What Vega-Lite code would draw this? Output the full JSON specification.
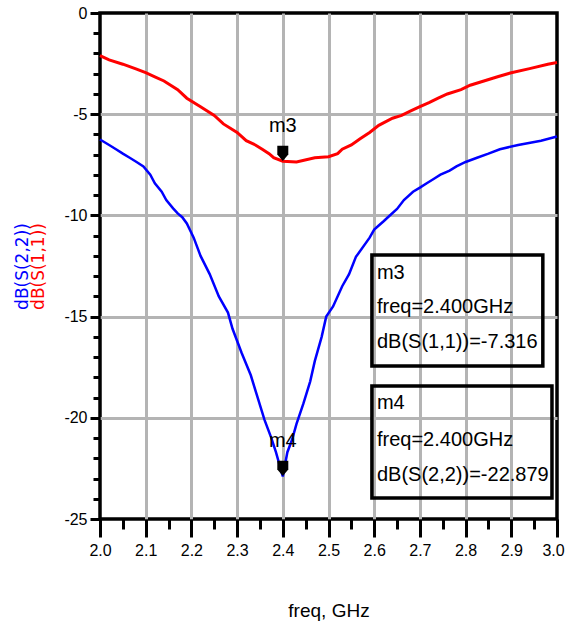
{
  "$schema": "https://vega.github.io/schema/vega-lite/v6.json",
  "width": 457,
  "height": 506,
  "autosize": {"type": "none"},
  "padding": {"left": 100, "top": 13, "right": 9, "bottom": 106},
  "background": "white",
  "config": {"view": {"stroke": "black", "strokeWidth": 3.5}, "font": "Liberation Sans"},
  "datasets": {
    "s11": [
      {"f": 2.0, "db": -2.11}, {"f": 2.02, "db": -2.32}, {"f": 2.05, "db": -2.53}, {"f": 2.08, "db": -2.77},
      {"f": 2.10, "db": -2.95}, {"f": 2.12, "db": -3.15}, {"f": 2.14, "db": -3.36}, {"f": 2.17, "db": -3.79},
      {"f": 2.19, "db": -4.21}, {"f": 2.22, "db": -4.63}, {"f": 2.25, "db": -5.06}, {"f": 2.27, "db": -5.48},
      {"f": 2.30, "db": -5.90}, {"f": 2.32, "db": -6.31}, {"f": 2.34, "db": -6.52}, {"f": 2.355, "db": -6.73},
      {"f": 2.37, "db": -6.95}, {"f": 2.38, "db": -7.15}, {"f": 2.40, "db": -7.32}, {"f": 2.43, "db": -7.36},
      {"f": 2.47, "db": -7.15}, {"f": 2.50, "db": -7.10}, {"f": 2.52, "db": -6.95}, {"f": 2.53, "db": -6.73},
      {"f": 2.55, "db": -6.52}, {"f": 2.57, "db": -6.20}, {"f": 2.59, "db": -5.90}, {"f": 2.61, "db": -5.55},
      {"f": 2.64, "db": -5.20}, {"f": 2.66, "db": -5.06}, {"f": 2.68, "db": -4.84}, {"f": 2.70, "db": -4.63},
      {"f": 2.72, "db": -4.43}, {"f": 2.74, "db": -4.21}, {"f": 2.76, "db": -4.00}, {"f": 2.79, "db": -3.79},
      {"f": 2.81, "db": -3.57}, {"f": 2.84, "db": -3.36}, {"f": 2.87, "db": -3.15}, {"f": 2.90, "db": -2.95},
      {"f": 2.94, "db": -2.75}, {"f": 2.98, "db": -2.53}, {"f": 3.0, "db": -2.45}
    ],
    "s22": [
      {"f": 2.0, "db": -6.25}, {"f": 2.02, "db": -6.52}, {"f": 2.035, "db": -6.73}, {"f": 2.05, "db": -6.95},
      {"f": 2.065, "db": -7.15}, {"f": 2.08, "db": -7.36}, {"f": 2.095, "db": -7.58}, {"f": 2.11, "db": -7.99},
      {"f": 2.12, "db": -8.41}, {"f": 2.135, "db": -8.83}, {"f": 2.145, "db": -9.24}, {"f": 2.16, "db": -9.65},
      {"f": 2.17, "db": -9.9}, {"f": 2.18, "db": -10.09}, {"f": 2.19, "db": -10.4}, {"f": 2.205, "db": -11.1},
      {"f": 2.22, "db": -12.0}, {"f": 2.24, "db": -12.9}, {"f": 2.26, "db": -14.0}, {"f": 2.28, "db": -14.8},
      {"f": 2.29, "db": -15.6}, {"f": 2.31, "db": -16.8}, {"f": 2.33, "db": -17.9}, {"f": 2.345, "db": -19.0},
      {"f": 2.36, "db": -20.1}, {"f": 2.375, "db": -21.0}, {"f": 2.385, "db": -21.7}, {"f": 2.40, "db": -22.9},
      {"f": 2.41, "db": -21.7}, {"f": 2.42, "db": -21.1}, {"f": 2.43, "db": -20.3}, {"f": 2.445, "db": -19.3},
      {"f": 2.46, "db": -18.2}, {"f": 2.47, "db": -17.2}, {"f": 2.485, "db": -16.0}, {"f": 2.495, "db": -15.0},
      {"f": 2.51, "db": -14.5}, {"f": 2.53, "db": -13.5}, {"f": 2.545, "db": -12.9}, {"f": 2.56, "db": -12.05},
      {"f": 2.59, "db": -11.1}, {"f": 2.60, "db": -10.7}, {"f": 2.61, "db": -10.5}, {"f": 2.62, "db": -10.3},
      {"f": 2.63, "db": -10.09}, {"f": 2.65, "db": -9.68}, {"f": 2.665, "db": -9.24}, {"f": 2.685, "db": -8.83},
      {"f": 2.70, "db": -8.63}, {"f": 2.715, "db": -8.41}, {"f": 2.73, "db": -8.2}, {"f": 2.745, "db": -7.99},
      {"f": 2.765, "db": -7.79}, {"f": 2.78, "db": -7.58}, {"f": 2.80, "db": -7.36}, {"f": 2.825, "db": -7.15},
      {"f": 2.85, "db": -6.95}, {"f": 2.875, "db": -6.73}, {"f": 2.915, "db": -6.52}, {"f": 2.965, "db": -6.31},
      {"f": 3.0, "db": -6.1}
    ],
    "markers": [
      {"f": 2.4, "db": -7.316, "name": "m3"},
      {"f": 2.4, "db": -22.879, "name": "m4"}
    ],
    "boxes": [
      {"x1": 2.595, "x2": 2.969, "y1": -11.96, "y2": -17.44},
      {"x1": 2.595, "x2": 2.989, "y1": -18.43, "y2": -23.96}
    ],
    "notes": [
      {"f": 2.606, "db": -12.85, "t": "m3"},
      {"f": 2.606, "db": -14.53, "t": "freq=2.400GHz"},
      {"f": 2.606, "db": -16.25, "t": "dB(S(1,1))=-7.316"},
      {"f": 2.606, "db": -19.27, "t": "m4"},
      {"f": 2.606, "db": -21.10, "t": "freq=2.400GHz"},
      {"f": 2.606, "db": -22.83, "t": "dB(S(2,2))=-22.879"}
    ]
  },
  "layer": [
    {
      "data": {"name": "s11"},
      "mark": {"type": "line", "color": "#ff0000", "strokeWidth": 3},
      "encoding": {
        "x": {
          "field": "f", "type": "quantitative",
          "scale": {"domain": [2, 3], "nice": false, "zero": false},
          "axis": {
            "orient": "bottom",
            "values": [2, 2.05, 2.1, 2.15, 2.2, 2.25, 2.3, 2.35, 2.4, 2.45, 2.5, 2.55, 2.6, 2.65, 2.7, 2.75, 2.8, 2.85, 2.9, 2.95, 3],
            "labelExpr": "round(datum.value*20)%2==0 ? format(datum.value,'.1f') : ''",
            "domain": false,
            "grid": true,
            "gridColor": "#b4b4b4",
            "gridWidth": 3,
            "gridOpacity": {"condition": {"test": "round(datum.value*20)%2==0 && datum.value>2.01 && datum.value<2.99", "value": 1}, "value": 0},
            "ticks": true,
            "tickColor": "black",
            "tickWidth": 3,
            "tickSize": {"condition": {"test": "round(datum.value*20)%2==0", "value": 18}, "value": 10},
            "labelPadding": 5,
            "labelOffset": {"condition": {"test": "datum.value>2.99", "value": -4}, "value": 0},
            "labelFont": "Liberation Sans",
            "labelFontSize": 16,
            "labelColor": "black",
            "labelFlush": false,
            "labelOverlap": false,
            "labelBound": false,
            "title": "freq, GHz",
            "titleFont": "Liberation Sans",
            "titleFontSize": 19,
            "titleFontWeight": "normal",
            "titleColor": "black",
            "titleX": 228.5,
            "titleY": 91,
            "titleAlign": "center",
            "titleBaseline": "middle"
          }
        },
        "y": {
          "field": "db", "type": "quantitative",
          "scale": {"domain": [-25, 0], "nice": false, "zero": false},
          "axis": {
            "orient": "left",
            "values": [0, -1, -2, -3, -4, -5, -6, -7, -8, -9, -10, -11, -12, -13, -14, -15, -16, -17, -18, -19, -20, -21, -22, -23, -24, -25],
            "labelExpr": "datum.value%5==0 ? toString(datum.value) : ''",
            "domain": false,
            "grid": true,
            "gridColor": "#b4b4b4",
            "gridWidth": 3,
            "gridOpacity": {"condition": {"test": "datum.value%5==0 && datum.value<-0.5 && datum.value>-24.5", "value": 1}, "value": 0},
            "tickColor": "black",
            "tickWidth": 3,
            "tickSize": {"condition": {"test": "datum.value%5==0", "value": 10}, "value": 7},
            "labelPadding": 3,
            "labelFont": "Liberation Sans",
            "labelFontSize": 16,
            "labelColor": "black",
            "labelBaseline": "middle",
            "labelFlush": false,
            "labelOverlap": false,
            "labelBound": false,
            "title": "dB(S(1,1))",
            "titleColor": "#ff0000",
            "titleFont": "DejaVu Sans",
            "titleFontSize": 17,
            "titleFontWeight": "normal",
            "titleX": -62,
            "titleY": 253,
            "titleAngle": -90,
            "titleAlign": "center",
            "titleBaseline": "middle"
          }
        }
      }
    },
    {
      "data": {"name": "s22"},
      "mark": {"type": "line", "color": "#0000ff", "strokeWidth": 2.5},
      "encoding": {
        "x": {"field": "f", "type": "quantitative", "scale": {"domain": [2, 3], "nice": false, "zero": false}, "axis": null},
        "y": {
          "field": "db", "type": "quantitative",
          "scale": {"domain": [-25, 0], "nice": false, "zero": false},
          "axis": {
            "orient": "left",
            "labels": false,
            "ticks": false,
            "domain": false,
            "grid": false,
            "title": "dB(S(2,2))",
            "titleColor": "#0000ff",
            "titleFont": "DejaVu Sans",
            "titleFontSize": 17,
            "titleFontWeight": "normal",
            "titleX": -78,
            "titleY": 253,
            "titleAngle": -90,
            "titleAlign": "center",
            "titleBaseline": "middle"
          }
        }
      }
    },
    {
      "data": {"name": "boxes"},
      "mark": {"type": "rect", "fillOpacity": 0, "stroke": "black", "strokeWidth": 3.5},
      "encoding": {
        "x": {"field": "x1", "type": "quantitative", "scale": {"domain": [2, 3], "nice": false, "zero": false}, "axis": null},
        "x2": {"field": "x2"},
        "y": {"field": "y1", "type": "quantitative", "scale": {"domain": [-25, 0], "nice": false, "zero": false}, "axis": null},
        "y2": {"field": "y2"}
      }
    },
    {
      "data": {"name": "markers"},
      "mark": {"type": "point", "shape": "M-1,-2.8L1,-2.8L1,-1.2L0,0L-1,-1.2Z", "filled": true, "color": "black", "opacity": 1, "size": 121},
      "encoding": {
        "x": {"field": "f", "type": "quantitative", "scale": {"domain": [2, 3], "nice": false, "zero": false}, "axis": null},
        "y": {"field": "db", "type": "quantitative", "scale": {"domain": [-25, 0], "nice": false, "zero": false}, "axis": null}
      }
    },
    {
      "data": {"name": "markers"},
      "mark": {"type": "text", "dy": -35, "font": "Liberation Sans", "fontSize": 20, "color": "black", "align": "center", "baseline": "middle"},
      "encoding": {
        "x": {"field": "f", "type": "quantitative", "scale": {"domain": [2, 3], "nice": false, "zero": false}, "axis": null},
        "y": {"field": "db", "type": "quantitative", "scale": {"domain": [-25, 0], "nice": false, "zero": false}, "axis": null},
        "text": {"field": "name"}
      }
    },
    {
      "data": {"name": "notes"},
      "mark": {"type": "text", "font": "Liberation Sans", "fontSize": 20, "color": "black", "align": "left", "baseline": "middle"},
      "encoding": {
        "x": {"field": "f", "type": "quantitative", "scale": {"domain": [2, 3], "nice": false, "zero": false}, "axis": null},
        "y": {"field": "db", "type": "quantitative", "scale": {"domain": [-25, 0], "nice": false, "zero": false}, "axis": null},
        "text": {"field": "t"}
      }
    }
  ],
  "resolve": {"axis": {"x": "independent", "y": "independent"}}
}
